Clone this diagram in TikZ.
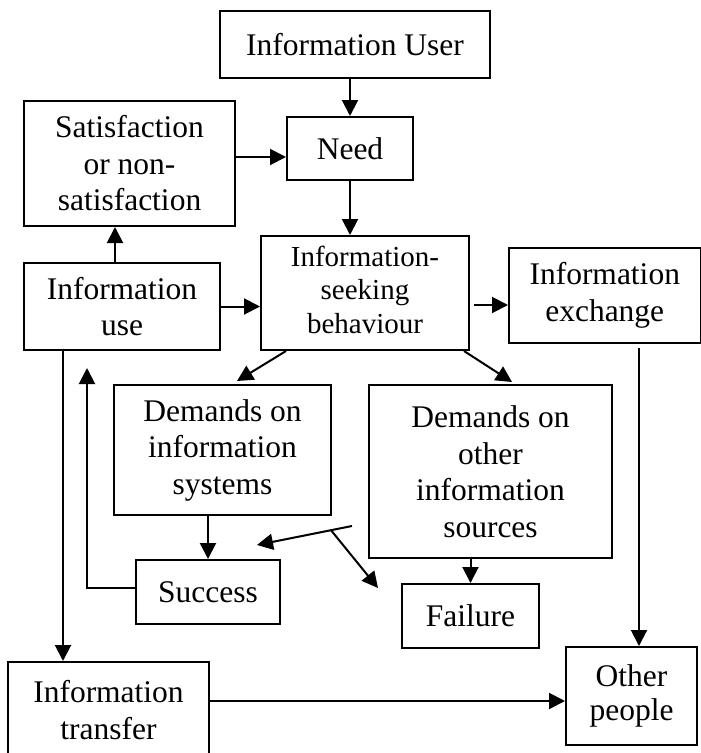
\documentclass[tikz,border=0pt]{standalone}
\usepackage{fontspec}
\setmainfont{Liberation Serif}
\usetikzlibrary{arrows.meta}

\begin{document}
\begin{tikzpicture}[x=1pt,y=-1pt,line width=2pt]
  \tikzstyle{box} = [draw, inner sep=0pt, align=center,
                     font=\fontsize{31.5}{36.5}\selectfont]
  \tikzstyle{arr} = [-{Triangle[length=16pt,width=16pt]}]
  \useasboundingbox (0,0) rectangle (701,753);
  \clip (0,0) rectangle (701,753);
% Boxes.
    \node[box, minimum width=270, minimum height=67] (user) at (355,44.5) {Information User};
    \node[box, minimum width=126, minimum height=63] (need) at (350,148.5) {Need};
    \node[box, minimum width=211, minimum height=125] (satis) at (129.5,163.5) {Satisfaction\\or non-\\satisfaction};
    \node[box, minimum width=208, minimum height=114,
          font=\fontsize{29}{33.5}\selectfont] (seek) at (365,293) {\raisebox{-6pt}{\begin{tabular}{@{}c@{}}Information-\\seeking\\behaviour\end{tabular}}};
    \node[box, minimum width=191.5, minimum height=95] (exch) at (604.75,295.5) {Information\\exchange};
    \node[box, minimum width=196, minimum height=87] (use) at (122,306.5) {Information\\use};
    \node[box, minimum width=217, minimum height=130] (dis) at (222.5,450) {Demands on\\information\\systems};
    \node[box, minimum width=243, minimum height=173] (dos) at (490.5,471.5) {Demands on\\other\\information\\sources};
    \node[box, minimum width=144, minimum height=64] (success) at (208,592) {Success};
    \node[box, minimum width=137, minimum height=64] (failure) at (470.5,616) {Failure};
    \node[box, minimum width=131, minimum height=98,
          font=\fontsize{31.5}{33.5}\selectfont] (other) at (631.5,696) {Other\\people};
    \node[box, minimum width=201, minimum height=96] (transfer) at (108.5,710) {Information\\transfer};
% Helper coordinates.
    \coordinate (s1) at ([yshift=6.5pt]satis.east);
    \coordinate (s6) at ([yshift=-9.5pt]exch.west);
    \coordinate (s9) at ([xshift=7.5pt]other.north);
    \coordinate (s10) at ([xshift=-59pt]use.south);
    \coordinate (fork) at (352,526);
    \coordinate (split) at (331,530.2);
    \coordinate (tosucc) at (257,545);
    \coordinate (tofail) at (378,588);
% Connectors.
    \draw[arr] (user.south -| need.north) -- (need.north);
    \draw[arr] (s1) -- (s1 -| need.west);
    \draw[arr] (need.south) -- (need.south |- seek.north);
    \draw[arr] ([xshift=-7pt]use.north) -- ([xshift=-7pt]use.north |- satis.south);
    \draw[arr] (use.east) -- (use.east -| seek.west);
    \draw[arr] ([xshift=4pt]s6 -| seek.east) -- (s6);
    \draw[arr] ([xshift=26pt]seek.south west) -- ([xshift=14.5pt,yshift=3pt]dis.north);
    \draw[arr] ([xshift=-6pt]seek.south east) -- ([xshift=21.5pt,yshift=2pt]dos.north);
    \draw[arr] ([yshift=-4pt]exch.south -| s9) -- (s9);
    \draw[arr] (s10) -- (s10 |- transfer.north);
    \draw[arr] ([yshift=4pt]success.west) -| ([xshift=-35pt,yshift=-17pt]use.south);
    \draw[arr] (success.north |- dis.south) -- (success.north);
    \draw[arr] (failure.north |- dos.south) -- (failure.north);
    \draw[arr] (fork) -- (tosucc);
    \draw[arr] (split) -- (tofail);
    \draw[arr] ([yshift=9pt]transfer.east) -- ([yshift=9pt]transfer.east -| other.west);
\end{tikzpicture}
\end{document}
